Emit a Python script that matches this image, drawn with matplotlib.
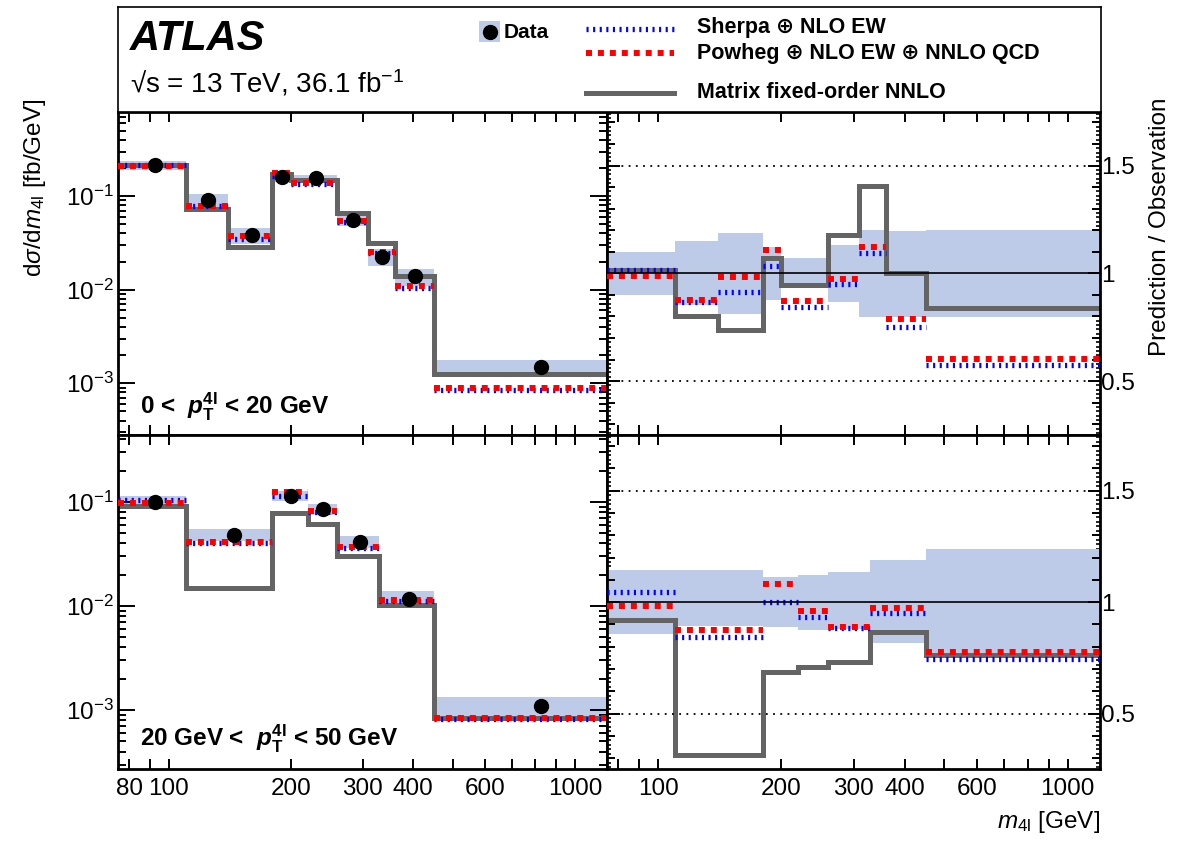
import numpy as np
import matplotlib.pyplot as plt
from matplotlib.ticker import FixedLocator, NullLocator, FuncFormatter, MultipleLocator, NullFormatter, LogLocator
from matplotlib.patches import Rectangle
from matplotlib.lines import Line2D

plt.rcParams['font.family'] = ['Liberation Sans', 'DejaVu Sans']
plt.rcParams['mathtext.fontset'] = 'custom'
plt.rcParams['mathtext.rm'] = 'Liberation Sans'
plt.rcParams['mathtext.it'] = 'Liberation Sans:italic'
plt.rcParams['mathtext.bf'] = 'Liberation Sans:bold'
plt.rcParams['mathtext.bfit'] = 'Liberation Sans:bold:italic'

# ---- data: 0 < pT4l < 20 GeV ----
edges_a = [75, 110, 140, 180, 200, 260, 310, 360, 450, 1200]
data_a = [0.214, 0.0906, 0.0384, 0.160, 0.158, 0.0556, 0.0226, 0.0139, 0.00149]
sherpa_a = [1.017, 0.868, 0.914, 1.034, 0.845, 0.952, 1.094, 0.753, 0.574]
powheg_a = [0.988, 0.875, 0.983, 1.110, 0.873, 0.972, 1.124, 0.788, 0.604]
matrix_a = [1.014, 0.800, 0.738, 1.070, 0.945, 1.178, 1.405, 1.003, 0.837]
unc_lo_a = [0.900, 0.853, 0.811, 0.876, 0.937, 0.868, 0.796, 0.796, 0.796]
unc_hi_a = [1.100, 1.152, 1.187, 1.121, 1.072, 1.133, 1.200, 1.195, 1.200]

# ---- data: 20 GeV < pT4l < 50 GeV ----
edges_b = [75, 110, 180, 220, 260, 330, 450, 1200]
data_b = [0.100, 0.0477, 0.115, 0.0858, 0.0412, 0.0117, 0.00109]
sherpa_b = [1.045, 0.843, 1.000, 0.933, 0.882, 0.952, 0.746]
powheg_b = [0.982, 0.873, 1.082, 0.960, 0.890, 0.972, 0.778]
matrix_b = [0.919, 0.315, 0.688, 0.710, 0.731, 0.867, 0.763]
unc_lo_b = [0.855, 0.893, 0.890, 0.875, 0.880, 0.815, 0.755]
unc_hi_b = [1.146, 1.143, 1.112, 1.124, 1.134, 1.187, 1.240]

x_ticks = [80, 90, 100, 200, 300, 400, 500, 600, 700, 800, 900, 1000]
labels_left = {80: '80', 100: '100', 200: '200', 300: '300', 400: '400', 600: '600', 1000: '1000'}
labels_right = {100: '100', 200: '200', 300: '300', 400: '400', 600: '600', 1000: '1000'}

band_color = '#bdcbe8'
gray = '#646464'
blue_ls = (0, (0.4, 0.85))
red_ls = (0, (1.0, 1.0))

W, H = 1182, 848
fig = plt.figure(figsize=(W / 100, H / 100), dpi=100)


def rect(x0, y0, x1, y1):
    return [x0 / W, 1 - y1 / H, (x1 - x0) / W, (y1 - y0) / H]


ax_tl = fig.add_axes(rect(118, 111.7, 607, 435))
ax_tr = fig.add_axes(rect(607, 111.7, 1100, 435))
ax_bl = fig.add_axes(rect(118, 435, 607, 769.3))
ax_br = fig.add_axes(rect(607, 435, 1100, 769.3))
ax_h = fig.add_axes(rect(118, 7, 1101, 111.7))


def draw(ax, axr, edges, data, sherpa, powheg, matrix, lo, hi):
    edges = np.array(edges, float)
    data = np.array(data)
    centers = 0.5 * (edges[:-1] + edges[1:])
    sherpa, powheg, matrix = np.array(sherpa), np.array(powheg), np.array(matrix)
    lo, hi = np.array(lo), np.array(hi)

    # absolute panel
    ax.stairs(data * hi, edges, baseline=data * lo, fill=True, color=band_color, lw=0, zorder=1)
    ax.stairs(data * matrix, edges, baseline=None, color=gray, lw=3.6, zorder=2)
    ax.hlines(data * sherpa, edges[:-1], edges[1:], colors='#0000ff', lw=3.8, linestyles=blue_ls, zorder=3)
    ax.hlines(data * powheg, edges[:-1], edges[1:], colors='#ff0000', lw=4.3, linestyles=red_ls, zorder=4)
    ax.plot(centers, data, 'o', color='k', ms=10, zorder=5)

    # ratio panel
    axr.stairs(hi, edges, baseline=lo, fill=True, color=band_color, lw=0, zorder=1)
    axr.stairs(matrix, edges, baseline=None, color=gray, lw=3.6, zorder=2)
    axr.hlines(sherpa, edges[:-1], edges[1:], colors='#0000ff', lw=3.8, linestyles=blue_ls, zorder=3)
    axr.hlines(powheg, edges[:-1], edges[1:], colors='#ff0000', lw=4.3, linestyles=red_ls, zorder=4)
    axr.axhline(1.0, color='k', lw=1.2, zorder=6)
    for yv in (0.5, 1.5):
        axr.axhline(yv, color='k', lw=1.3, ls=(0, (1, 3)), zorder=6)


draw(ax_tl, ax_tr, edges_a, data_a, sherpa_a, powheg_a, matrix_a, unc_lo_a, unc_hi_a)
draw(ax_bl, ax_br, edges_b, data_b, sherpa_b, powheg_b, matrix_b, unc_lo_b, unc_hi_b)

# axes styling
for ax in (ax_tl, ax_tr, ax_bl, ax_br):
    ax.set_xscale('log')
    ax.set_xlim(75, 1200)
    ax.xaxis.set_major_locator(FixedLocator(x_ticks))
    ax.xaxis.set_minor_locator(NullLocator())
    for sp in ax.spines.values():
        sp.set_linewidth(2)
    ax.tick_params(axis='both', which='both', direction='in', top=True, bottom=True,
                   left=True, right=True, width=1.4, labelsize=17.5)
    ax.tick_params(axis='x', which='major', length=7, pad=6)

for ax, lab in ((ax_bl, labels_left), (ax_br, labels_right)):
    ax.xaxis.set_major_formatter(FuncFormatter(lambda v, p, lab=lab: lab.get(int(round(v)), '')))
for ax in (ax_tl, ax_tr):
    ax.tick_params(axis='x', labelbottom=False)

ax_tl.set_ylim(2.8e-4, 0.8)
ax_bl.set_ylim(2.7e-4, 0.44)
for ax in (ax_tl, ax_bl):
    ax.set_yscale('log')
    ax.yaxis.set_major_locator(LogLocator(base=10, numticks=10))
    ax.yaxis.set_minor_locator(LogLocator(base=10, subs=np.arange(2, 10), numticks=10))
    ax.yaxis.set_minor_formatter(NullFormatter())
    ax.tick_params(axis='y', which='major', length=12, pad=3)
    ax.tick_params(axis='y', which='minor', length=6)

for ax in (ax_tr, ax_br):
    ax.set_ylim(0.25, 1.75)
    ax.yaxis.set_major_locator(FixedLocator([0.5, 1.0, 1.5]))
    ax.yaxis.set_minor_locator(MultipleLocator(0.1))
    ax.yaxis.set_major_formatter(FuncFormatter(lambda v, p: '%g' % v))
    ax.tick_params(axis='y', labelleft=False, labelright=True)
    ax.tick_params(axis='y', which='major', length=9, pad=1)
    ax.tick_params(axis='y', which='minor', length=6)
    for side in ('left', 'right'):
        sec = ax.secondary_yaxis(side)
        sec.set_yticks(np.arange(0.26, 1.75, 0.02))
        sec.tick_params(direction='in', length=3, width=1.2, labelleft=False, labelright=False)
        sec.spines[side].set_visible(False)

# panel labels
ax_tl.text(0.045, 0.062, r'0 <  $\mathbfit{p}_{\mathbf{T}}^{\mathbf{4l}}$ < 20 GeV',
           transform=ax_tl.transAxes, fontsize=17.5, fontweight='bold', va='baseline')
ax_bl.text(0.045, 0.068, r'20 GeV <  $\mathbfit{p}_{\mathbf{T}}^{\mathbf{4l}}$ < 50 GeV',
           transform=ax_bl.transAxes, fontsize=17.5, fontweight='bold', va='baseline')

# axis titles
fig.text(35 / W, 1 - 99 / H, r'd$\sigma$/d$m_{\mathregular{4l}}$ [fb/GeV]', rotation=90,
         ha='center', va='top', fontsize=17.5)
fig.text(1160 / W, 1 - 98 / H, 'Prediction / Observation', rotation=90,
         ha='center', va='top', fontsize=17.5)
fig.text(1100 / W, 1 - 822 / H, r'$m_{\mathregular{4l}}$ [GeV]', ha='right', va='center', fontsize=17.5)

# header box with ATLAS label and legend (pixel coordinates)
ax_h.set_xlim(118, 1101)
ax_h.set_ylim(111.7, 7)
ax_h.set_xticks([])
ax_h.set_yticks([])
for sp in ax_h.spines.values():
    sp.set_linewidth(1.2)
ax_h.text(130, 49.5, 'ATLAS', fontsize=30, fontweight='bold', fontstyle='italic', va='baseline')
ax_h.text(130, 92.5, r'√s = 13 TeV, 36.1 fb$^{\mathregular{-1}}$', fontsize=20, va='baseline')

ax_h.add_patch(Rectangle((479, 21), 21, 21, color=band_color, lw=0))
ax_h.plot([489.5], [31.5], 'o', color='k', ms=10)
ax_h.text(504, 32, 'Data', fontsize=15, fontweight='bold', va='center')

ax_h.add_line(Line2D([586, 674], [29, 29], color='#0000ff', lw=3.8, ls=blue_ls))
ax_h.text(697, 28, 'Sherpa ⊕ NLO EW', fontsize=15.5, fontweight='bold', va='center')
ax_h.add_line(Line2D([586, 674], [53, 53], color='#ff0000', lw=4.3, ls=red_ls))
ax_h.text(697, 53, 'Powheg ⊕ NLO EW ⊕ NNLO QCD', fontsize=15.5, fontweight='bold', va='center')
ax_h.add_line(Line2D([586, 674], [93, 93], color=gray, lw=3.6))
ax_h.text(697, 92, 'Matrix fixed-order NNLO', fontsize=15.5, fontweight='bold', va='center')

fig.savefig('out.png', dpi=100)
